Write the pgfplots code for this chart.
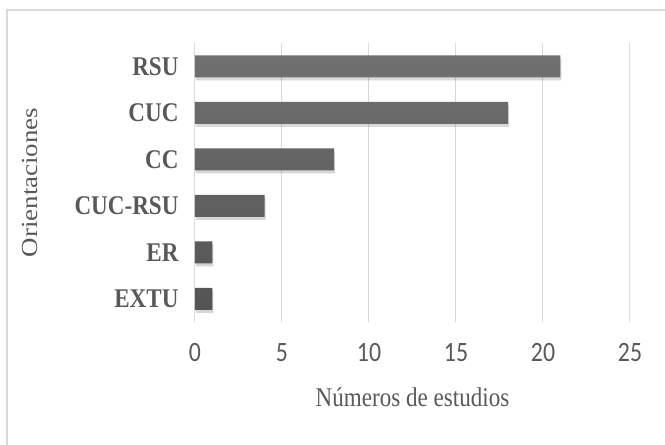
\documentclass[border=0pt]{standalone}
\usepackage{fontspec}
\setmainfont{Liberation Serif}
\newfontfamily\condserif{Liberation Serif}[FakeStretch=0.855]
\newfontfamily\wideserif{Liberation Serif}[FakeStretch=1.17]
\newfontfamily\tickfont{Carlito}[FakeStretch=0.85]
\usepackage{pgfplots}
\pgfplotsset{compat=1.18}
\definecolor{txt}{HTML}{595959}
\definecolor{gridc}{HTML}{D9D9D9}
\definecolor{bartop}{HTML}{707070}
\definecolor{barbot}{HTML}{545454}
\begin{document}
\begin{tikzpicture}[x=1pt,y=1pt]
\path[use as bounding box] (0,0) rectangle (665,-445);
\draw[gridc, line width=1.5pt] (7,-448) -- (7,-10) -- (668,-10);
\begin{axis}[
  at={(195pt,-322pt)}, anchor=south west,
  scale only axis, width=435pt, height=279pt,
  xbar, bar width=22pt,
  xmin=0, xmax=25, ymin=-0.5, ymax=5.5,
  xtick={0,5,10,15,20,25},
  ytick={0,1,2,3,4,5},
  yticklabels={EXTU,ER,CUC-RSU,CC,CUC,RSU},
  axis line style={draw=none},
  major tick length=0pt,
  xmajorgrids, grid style={gridc, line width=1pt},
  /pgf/number format/assume math mode=true,
  xticklabel style={font=\tickfont\fontsize{28}{30}\selectfont, text=txt, yshift=-18pt},
  yticklabel style={font=\condserif\bfseries\fontsize{27}{30}\selectfont, text=txt, xshift=-13pt},
  xlabel={Números de estudios},
  ylabel={Orientaciones},
  xlabel style={at={(axis description cs:0.5,-0.269)}, anchor=center, font=\condserif\fontsize{27}{30}\selectfont, text=txt},
  ylabel style={at={(axis description cs:-0.379,0.5)}, anchor=center, font=\wideserif\fontsize{23}{27}\selectfont, text=txt},
  clip=false,
]
\addplot[draw=none, top color=bartop, bottom color=barbot,
  preaction={fill=black, opacity=0.10, transform canvas={xshift=1pt, yshift=-3pt}}]
  coordinates {(1,0) (1,1) (4,2) (8,3) (18,4) (21,5)};
\end{axis}
\end{tikzpicture}
\end{document}
